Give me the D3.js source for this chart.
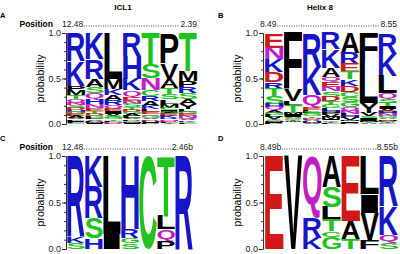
<!DOCTYPE html>
<html>
<head>
<meta charset="utf-8">
<script src="https://cdn.jsdelivr.net/npm/d3@7"></script>
<style>
  body { margin: 0; background: #fff; }
  svg { display: block; font-family: "Liberation Sans", Arial, sans-serif; }
  .axis text { font-size: 9px; fill: #222; }
  .axis path, .axis line { stroke: #333; }
</style>
</head>
<body>
<svg id="chart" width="400" height="254"></svg>
<script>
// probability of each residue per position, listed top of stack first
const icl1 = [
  [["R",.31],["K",.27],["P",.055],["M",.05],["T",.045],["Q",.035],["N",.03],["S",.03],["D",.025],["H",.025],["G",.02],["E",.02],["A",.02],["V",.015],["L",.015],["I",.015],["F",.01],["C",.01]],
  [["K",.29],["R",.21],["A",.09],["S",.075],["Q",.065],["H",.055],["N",.04],["E",.03],["T",.03],["D",.025],["G",.02],["L",.02],["V",.015],["P",.015],["M",.01],["I",.01]],
  [["L",.50],["M",.11],["K",.075],["A",.055],["R",.05],["Q",.04],["E",.03],["I",.025],["V",.025],["S",.02],["G",.02],["T",.015],["F",.015],["N",.01],["D",.01]],
  [["R",.25],["H",.25],["K",.13],["Q",.075],["E",.04],["N",.035],["S",.035],["T",.03],["D",.025],["G",.025],["A",.02],["L",.02],["V",.015],["P",.015],["C",.01],["M",.01],["I",.01],["F",.005]],
  [["T",.34],["S",.16],["N",.13],["C",.065],["R",.055],["A",.05],["K",.04],["L",.03],["E",.025],["Q",.02],["G",.02],["V",.015],["D",.015],["H",.01],["I",.01],["P",.01],["M",.005]],
  [["P",.33],["V",.17],["A",.10],["T",.075],["S",.055],["L",.045],["M",.045],["C",.03],["I",.025],["G",.02],["E",.02],["K",.02],["R",.015],["N",.015],["D",.015],["F",.01],["Y",.01]],
  [["T",.42],["M",.11],["P",.065],["R",.065],["S",.065],["A",.06],["Y",.05],["L",.03],["G",.025],["E",.02],["N",.02],["Q",.015],["V",.015],["K",.015],["C",.01],["F",.01],["H",.005]]
];
const helix8 = [
  [["E",.16],["N",.13],["K",.14],["D",.11],["R",.07],["T",.08],["S",.09],["H",.035],["Q",.03],["A",.03],["G",.025],["L",.02],["V",.02],["Y",.015],["C",.015],["M",.01],["I",.01],["P",.01]],
  [["F",.625],["V",.12],["L",.045],["T",.09],["M",.02],["I",.02],["A",.015],["S",.015],["C",.01],["Y",.01],["W",.01],["N",.005],["G",.005],["K",.005],["R",.005]],
  [["R",.37],["K",.31],["Q",.14],["E",.03],["L",.025],["S",.02],["G",.02],["T",.015],["N",.015],["D",.01],["A",.01],["H",.01],["M",.01],["V",.01],["Y",.005]],
  [["R",.18],["K",.20],["A",.10],["Q",.06],["E",.05],["N",.05],["S",.06],["D",.05],["T",.04],["G",.035],["L",.03],["H",.025],["P",.025],["V",.02],["M",.02],["I",.015],["C",.015],["Y",.01],["F",.01],["W",.005]],
  [["A",.22],["R",.12],["E",.09],["T",.08],["K",.075],["D",.065],["C",.055],["S",.055],["G",.05],["Q",.04],["N",.035],["L",.03],["H",.02],["V",.02],["M",.015],["I",.015],["P",.01],["Y",.005]],
  [["F",.32],["L",.45],["Y",.11],["V",.035],["S",.03],["I",.02],["M",.015],["T",.01],["A",.01]],
  [["R",.23],["K",.24],["L",.19],["Q",.065],["S",.04],["T",.035],["I",.03],["V",.025],["E",.02],["H",.02],["N",.02],["G",.02],["A",.015],["M",.015],["D",.01],["Y",.01],["C",.01],["F",.005]]
];
const icl1Cons = [
  [["R",.87],["K",.065],["S",.065]],
  [["K",.33],["R",.34],["S",.22],["H",.11]],
  [["L",.84],["I",.16]],
  [["H",.79],["R",.09],["G",.06],["S",.06]],
  [["C",1]],
  [["T",.64],["L",.15],["Q",.13],["P",.08]],
  [["R",1]]
];
const helix8Cons = [
  [["E",1]],
  [["V",1]],
  [["Q",.66],["R",.22],["K",.12]],
  [["A",.33],["S",.22],["L",.13],["T",.13],["C",.06],["G",.13]],
  [["E",.70],["A",.19],["T",.11]],
  [["L",.41],["I",.20],["V",.29],["F",.10]],
  [["R",.54],["K",.31],["Q",.08],["S",.07]]
];

const titles = ["ICL1", "Helix 8"];
const panelLetters = ["A", "B", "C", "D"];
const startLabels = ["12.48", "8.49", "12.48", "8.49b"];
const endLabels = ["2.39", "8.55", "2.46b", "8.55b"];
const yTicks = [0, 0.5, 1.0];

const colorOf = a => {
  if ("KRH".includes(a)) return "#1616c8";
  if ("DE".includes(a)) return "#d01818";
  if ("STGC".includes(a)) return "#1fc21f";
  if ("NQ".includes(a)) return "#c21fc2";
  return "#000";
};

const svg = d3.select("#chart");
const glyphFont = "bold 100px 'Liberation Sans', Arial, sans-serif";
const ctx = document.createElement("canvas").getContext("2d");
ctx.font = glyphFont;
const inkCache = {};
function ink(a) {
  if (!inkCache[a]) {
    const m = ctx.measureText(a);
    inkCache[a] = {l: m.actualBoundingBoxLeft, r: m.actualBoundingBoxRight,
                   a: m.actualBoundingBoxAscent, d: m.actualBoundingBoxDescent};
  }
  return inkCache[a];
}

const panels = [
  {data: icl1,       ax: 66,  x0: 67,  x1: 197, y0: 33,  y1: 124, pos: true},
  {data: helix8,     ax: 263, x0: 265, x1: 397, y0: 33,  y1: 124, pos: false},
  {data: icl1Cons,   ax: 66,  x0: 67,  x1: 193, y0: 156, y1: 249, pos: true},
  {data: helix8Cons, ax: 263, x0: 265, x1: 398, y0: 156, y1: 249, pos: false}
];

panels.forEach((p, i) => {
  const x = d3.scaleBand().domain(d3.range(p.data.length)).range([p.x0, p.x1]).paddingInner(0.03);
  const y = d3.scaleLinear().domain([0, 1]).range([p.y1, p.y0]);
  const g = svg.append("g");

  // minor ticks
  g.append("g").attr("class", "axis")
    .attr("transform", `translate(${p.ax},0)`)
    .call(d3.axisLeft(y).tickValues(d3.range(0, 1.01, 0.1)).tickSize(2).tickSizeOuter(0).tickFormat(""));
  // major ticks
  g.append("g").attr("class", "axis")
    .attr("transform", `translate(${p.ax},0)`)
    .call(d3.axisLeft(y).tickValues(yTicks).tickSize(4).tickSizeOuter(0).tickPadding(1).tickFormat(d3.format(".1f")));

  g.append("text")
    .attr("transform", `translate(${p.ax - 22},${(p.y0 + p.y1) / 2}) rotate(-90)`)
    .attr("text-anchor", "middle")
    .style("font-size", "10.5px")
    .text("probability");

  // letter stacks
  p.data.forEach((col, c) => {
    let cum = 1;
    col.forEach(([a, v]) => {
      const top = y(cum), bot = y(cum - v);
      cum -= v;
      const h = bot - top;
      if (h <= 0) return;
      const m = ink(a);
      const sx = x.bandwidth() / (m.l + m.r);
      const sy = h / (m.a + m.d);
      g.append("text")
        .attr("transform", `translate(${x(c)},${top}) scale(${sx},${sy}) translate(${m.l},${m.a})`)
        .style("font", glyphFont)
        .attr("fill", colorOf(a))
        .text(a);
    });
  });

  // position header
  const by = p.y0 - 6.5;
  if (p.pos) {
    g.append("text").attr("x", 53).attr("y", by).attr("text-anchor", "end")
      .style("font-size", "8.5px").style("font-weight", "bold").text("Position");
  }
  const sl = g.append("text").attr("x", p.x0 - 5).attr("y", by)
    .style("font-size", "8.5px").attr("fill", "#222").text(startLabels[i]);
  const el = g.append("text").attr("x", p.x1).attr("y", by).attr("text-anchor", "end")
    .style("font-size", "8.5px").attr("fill", "#222").text(endLabels[i]);
  const sw = sl.node().getComputedTextLength();
  const ew = el.node().getComputedTextLength();
  g.append("line")
    .attr("x1", p.x0 - 5 + sw + 0.5).attr("x2", p.x1 - ew - 0.5)
    .attr("y1", by - 0.5).attr("y2", by - 0.5)
    .attr("stroke", "#333").attr("stroke-width", 1)
    .attr("stroke-dasharray", "0.9 1.5");

  g.append("text")
    .attr("x", i % 2 ? 218 : 0).attr("y", p.y0 - 15)
    .style("font-size", "7.5px").style("font-weight", "bold").text(panelLetters[i]);
});

svg.selectAll(".ttl").data(titles).enter().append("text")
  .attr("x", (d, i) => i ? 320 : 123).attr("y", 9.5)
  .attr("text-anchor", "middle")
  .style("font-size", "8px").style("font-weight", "bold")
  .text(d => d);
</script>
</body>
</html>
